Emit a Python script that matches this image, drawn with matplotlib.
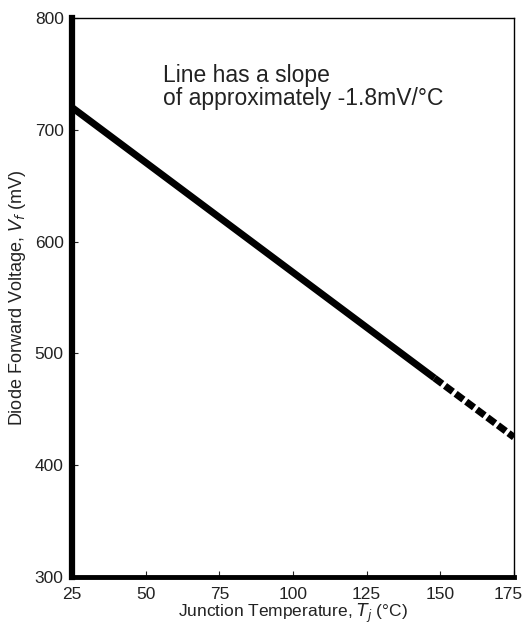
import matplotlib.pyplot as plt
from matplotlib.transforms import ScaledTranslation

plt.rcParams['font.family'] = ['Liberation Sans', 'DejaVu Sans']

# Data
temp_solid = [25, 148]
volt_solid = [720, 478]
temp_dash = [148, 175]
volt_dash = [478, 425]

x_ticks = [25, 50, 75, 100, 125, 150, 175]
y_ticks = [300, 400, 500, 600, 700, 800]

fig = plt.figure(figsize=(5.24, 6.26), dpi=100)
ax = fig.add_axes([72 / 524, 49 / 626, 442 / 524, 559 / 626])

ax.plot(temp_solid, volt_solid, color='black', lw=5, solid_capstyle='butt')
ax.plot(temp_dash, volt_dash, color='black', lw=5, dashes=(1.4, 0.5))

ax.set_xlim(25, 175)
ax.set_ylim(300, 800)
ax.set_xticks(x_ticks)
ax.set_yticks(y_ticks)
ax.tick_params(direction='in', length=4, width=0.8, labelsize=12.5, colors='#222222')
ax.tick_params(axis='x', pad=7)
ax.tick_params(axis='y', pad=6)

# last x label sits slightly left so it stays inside the picture
last = ax.get_xticklabels()[-1]
last.set_transform(last.get_transform() + ScaledTranslation(-6 / 100, 0, fig.dpi_scale_trans))

ax.spines['left'].set_linewidth(4.5)
ax.spines['bottom'].set_linewidth(3.5)
ax.spines['top'].set_linewidth(1.0)
ax.spines['right'].set_linewidth(1.0)

ax.set_xlabel('Junction Temperature, $T_j$ (°C)', fontsize=12.5, labelpad=0, color='#222222')
ax.set_ylabel('Diode Forward Voltage, $V_f$ (mV)', fontsize=13, labelpad=5, color='#222222')

ax.text(0.205, 0.918, 'Line has a slope\nof approximately -1.8mV/°C',
        transform=ax.transAxes, fontsize=16.5, va='top', ha='left',
        linespacing=1.0, color='#222222')

fig.savefig('out.png', dpi=100)
